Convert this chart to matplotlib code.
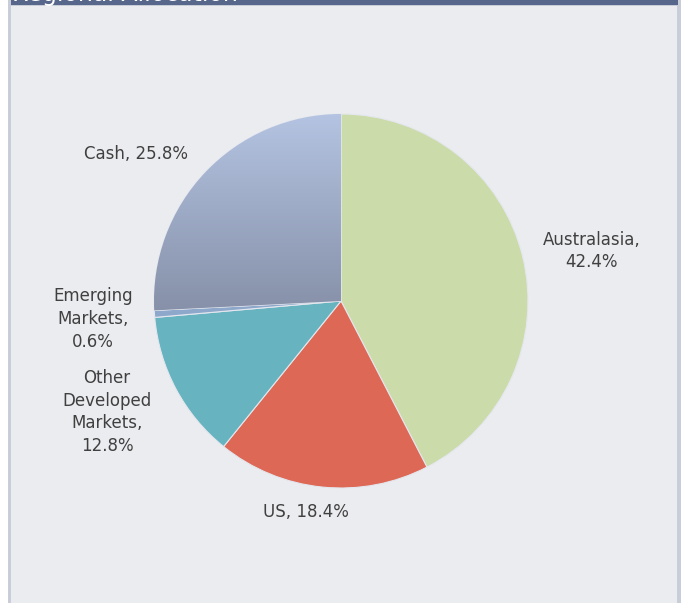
import numpy as np
import matplotlib
matplotlib.use("Agg")
import matplotlib.pyplot as plt
from matplotlib.colors import LinearSegmentedColormap
from matplotlib.patches import Rectangle

# regional allocation data
regions = ['Australasia', 'US', 'Other Developed Markets', 'Emerging Markets', 'Cash']
weights = [42.4, 18.4, 12.8, 0.6, 25.8]
colors = ['#CBDBA9', '#DE6856', '#67B3C0', '#8EA8CC', '#B2C1DF']
label_text = ['Australasia,\n42.4%', 'US, 18.4%', 'Other\nDeveloped\nMarkets,\n12.8%',
              'Emerging\nMarkets,\n0.6%', 'Cash, 25.8%']
# label centres in pixel coords (x, y from top)
label_pos = [(592, 251), (306, 512), (107, 412), (93, 319), (136, 154)]

W, H = 685, 603
fig = plt.figure(figsize=(W / 100, H / 100), dpi=100)
fig.patch.set_facecolor('white')
ax = fig.add_axes([0, 0, 1, 1])
ax.set_xlim(0, W)
ax.set_ylim(0, H)
ax.axis('off')

# panel background + borders
ax.add_patch(Rectangle((8, 0), 673, H, facecolor='#C9CDD8', edgecolor='none', zorder=0))
ax.add_patch(Rectangle((11, 0), 666, H - 6, facecolor='#EBECF0', edgecolor='none', zorder=0))
ax.add_patch(Rectangle((11, H - 4.5), 667, 4.5, facecolor='#56678B', edgecolor='none', zorder=1))
# title sits mostly above the visible area, as in the original crop
ax.text(12, H - 1.0, 'Regional Allocation', color='white', fontsize=17,
        va='baseline', ha='left', zorder=2, clip_on=True)

cx, cy, r = 341, H - 301, 187
wedges, _ = ax.pie(weights, colors=colors, startangle=90, counterclock=False,
                   center=(cx, cy), radius=r, frame=True,
                   wedgeprops=dict(edgecolor='#E4E7EE', linewidth=0.8))
ax.set_xlim(0, W)
ax.set_ylim(0, H)
ax.set_aspect('equal')
ax.axis('off')

# gradient fill on the cash slice
cmap = LinearSegmentedColormap.from_list('cash', ['#8690A8', '#B4C4E2'])
grad = np.linspace(0, 1, 256).reshape(-1, 1)
im = ax.imshow(grad, cmap=cmap, origin='lower', aspect='auto',
               extent=[cx - r - 2, cx + 2, cy - 12, cy + r + 2], zorder=3)
im.set_clip_path(wedges[4])
wedges[4].set_zorder(2)

for txt, (px, py) in zip(label_text, label_pos):
    ax.text(px, H - py, txt, ha='center', va='center', fontsize=12,
            color='#404040', linespacing=1.33, zorder=5)

fig.savefig('out.png', dpi=100)
